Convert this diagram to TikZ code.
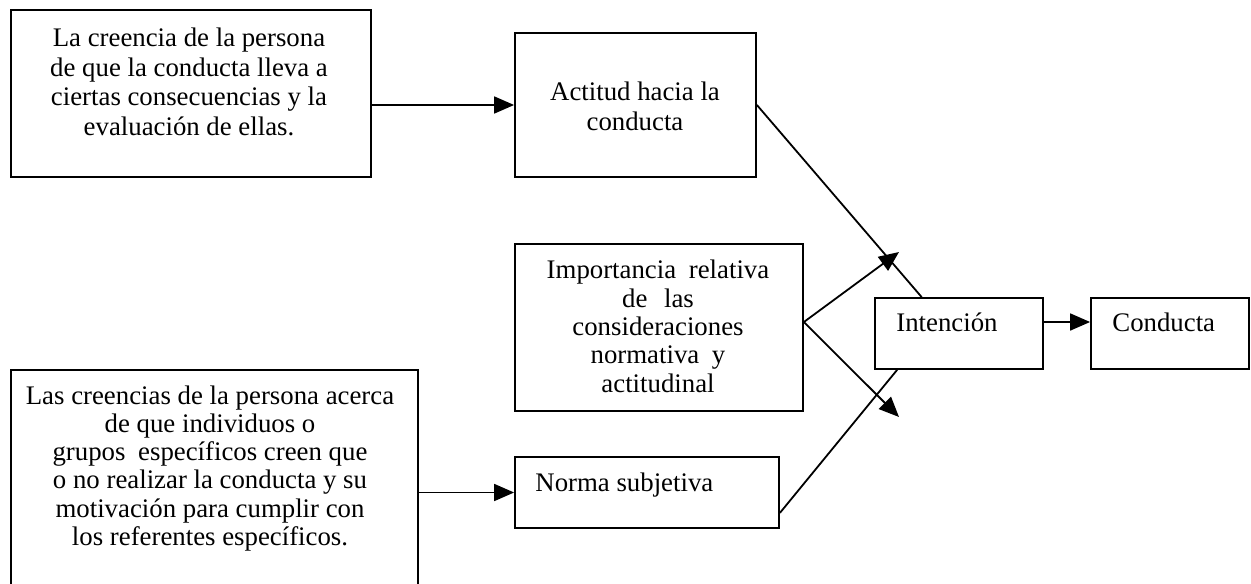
\documentclass[tikz,border=0pt]{standalone}
\usepackage{fontspec}
\setmainfont{Liberation Serif}
\usetikzlibrary{arrows.meta,calc}
\begin{document}
\begin{tikzpicture}[x=0.5pt,y=-0.5pt,
  box/.style={draw, line width=0.9pt, inner sep=0pt},
  txt/.style={inner sep=0pt, align=center},
  arr/.style={line width=0.9pt, -{Triangle[length=10pt,width=8.5pt]}},
  ln/.style={line width=0.9pt}]
\useasboundingbox (0,0) rectangle (1251,583);
\clip (0,0) rectangle (1251,583);
% boxes
\node[box, minimum width=180pt, minimum height=83.5pt] (b1) at (191,93.5) {};
\node[box, minimum width=120.5pt, minimum height=72pt] (act) at (635.5,105) {};
\node[box, minimum width=144pt, minimum height=83.5pt] (imp) at (659,327.5) {};
\node[box, minimum width=203.5pt, minimum height=115pt] (bl) at (214.5,485) {};
\node[box, minimum width=132pt, minimum height=35.5pt] (norma) at (647,492.5) {};
\node[box, minimum width=84pt, minimum height=35.5pt] (int) at (959,333.5) {};
\node[box, minimum width=79pt, minimum height=35.5pt] (con) at (1170,333.5) {};
% texts
\node[txt, anchor=north, font=\fontsize{13.4pt}{14.9pt}\selectfont] (t1) at (189,27.4)
  {La creencia de la persona\\de que la conducta lleva a\\ciertas consecuencias y la\\evaluación de ellas.};
\node[txt, anchor=north, font=\fontsize{13.4pt}{15pt}\selectfont] (tact) at (635,81.7)
  {Actitud hacia la\\conducta};
\node[txt, anchor=north, font=\fontsize{13.4pt}{14.2pt}\selectfont] (timp) at (658,259.7)
  {Importancia\hspace{3pt} relativa\\de\hspace{5pt} las\\consideraciones\\normativa\hspace{3pt} y\\actitudinal};
\node[txt, anchor=north, font=\fontsize{13.4pt}{14.15pt}\selectfont] (tbl) at (210,385)
  {Las creencias de la persona acerca\\de que individuos o\\grupos\hspace{3pt} específicos creen que\\o no realizar la conducta y su\\motivación para cumplir con\\los referentes específicos.};
\node[txt, anchor=base west, font=\fontsize{13.4pt}{14.5pt}\selectfont] (tnorma) at (535,491.7) {Norma subjetiva};
\node[txt, anchor=base west, font=\fontsize{13.4pt}{14.5pt}\selectfont] (tint) at (896,331.7) {Intención};
\node[txt, anchor=base west, font=\fontsize{13.4pt}{14.5pt}\selectfont] (tcon) at (1112,331.7) {Conducta};
% connectors
\coordinate (tA) at (899,252);
\coordinate (tB) at (899,417);
\coordinate (impo) at ($(imp.east)+(0,-5.5)$);
\draw[arr] (b1.east |- act.west) -- (act.west);
\draw[ln] (act.east) -- ($(int.north west)!0.28!(int.north east)$);
\draw[arr] (impo) -- (tA);
\draw[arr] (impo) -- (tB);
\draw[arr] (bl.east |- norma.west) -- (norma.west);
\draw[ln] ($(norma.south east)+(0,-16)$) -- ($(int.south west)+(23,0)$);
\draw[arr] ($(int.east)+(0,-11.5)$) -- ($(con.west)+(0,-11.5)$);
\end{tikzpicture}
\end{document}
